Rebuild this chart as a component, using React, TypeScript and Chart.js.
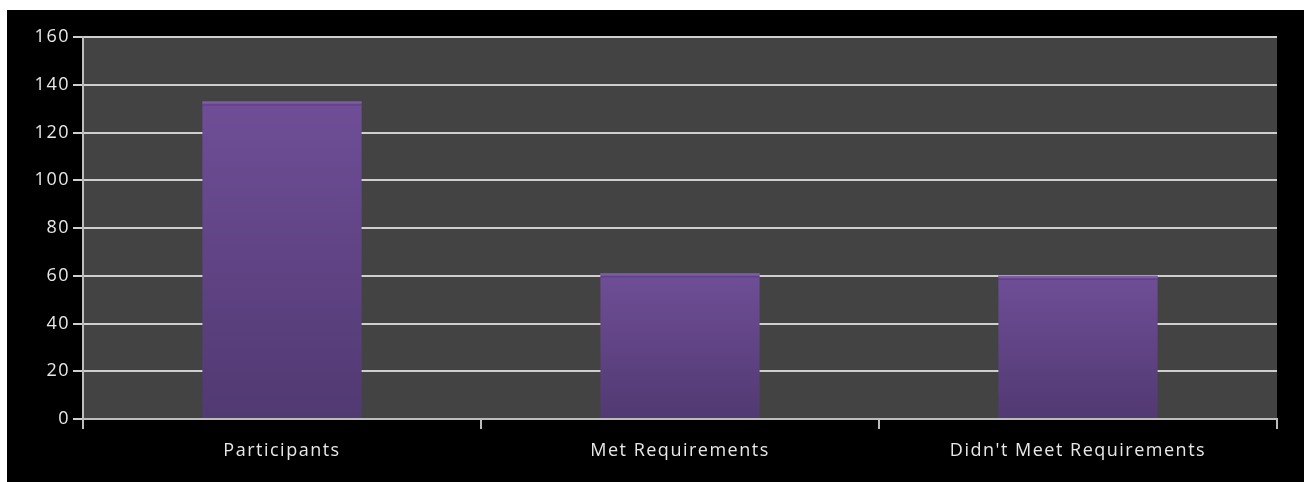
import React, { useEffect, useRef } from "react";
import { Chart, registerables } from "chart.js";

Chart.register(...registerables);

const categories = ["Participants", "Met Requirements", "Didn't Meet Requirements"];
const values = [133, 61, 60];
const yTicks = [0, 20, 40, 60, 80, 100, 120, 140, 160];

const FONT = "'Open Sans', 'DejaVu Sans', sans-serif";

const bgPlugin = {
  id: "plotBg",
  beforeDraw(chart: any) {
    const { ctx, chartArea } = chart;
    ctx.save();
    ctx.fillStyle = "#434343";
    ctx.fillRect(chartArea.left, chartArea.top, chartArea.right - chartArea.left, chartArea.bottom - chartArea.top);
    ctx.restore();
  },
};

const spacingPlugin = {
  id: "spacing",
  beforeInit(chart: any) {
    (chart.ctx as any).letterSpacing = "1.5px";
  },
  beforeDraw(chart: any) {
    (chart.ctx as any).letterSpacing = "1.5px";
  },
};

const topLinePlugin = {
  id: "topLine",
  afterDatasetsDraw(chart: any) {
    const { ctx } = chart;
    const meta = chart.getDatasetMeta(0);
    ctx.save();
    meta.data.forEach((bar: any) => {
      const w = bar.width;
      const x0 = bar.x - w / 2;
      ctx.fillStyle = "rgba(130, 95, 170, 0.9)";
      ctx.fillRect(x0, bar.y, w, 2);
      ctx.fillStyle = "rgba(80, 55, 115, 0.6)";
      ctx.fillRect(x0, bar.y + 3, w, 1);
    });
    ctx.restore();
  },
};

export default function App() {
  const ref = useRef<HTMLCanvasElement>(null);
  useEffect(() => {
    const canvas = ref.current!;
    const chart = new Chart(canvas, {
      type: "bar",
      data: {
        labels: categories,
        datasets: [
          {
            data: values,
            backgroundColor: (c: any) => {
              const ch = c.chart;
              const area = ch.chartArea;
              const ys = ch.scales?.y;
              if (!area || !ys || c.raw == null) return "#5f4484";
              const top = ys.getPixelForValue(c.raw);
              const g = ch.ctx.createLinearGradient(0, top, 0, area.bottom);
              g.addColorStop(0, "#6f4e97");
              g.addColorStop(1, "#513972");
              return g;
            },
            borderWidth: 0,
            categoryPercentage: 1,
            barPercentage: 0.4,
          },
        ],
      },
      options: {
        animation: false,
        responsive: false,
        maintainAspectRatio: false,
        layout: { padding: { top: 27, right: 27, left: 0, bottom: 0 } },
        plugins: { legend: { display: false }, tooltip: { enabled: false } },
        scales: {
          x: {
            grid: {
              offset: true,
              drawOnChartArea: false,
              drawTicks: true,
              tickLength: 10,
              color: "#bdbdbd",
              lineWidth: 2,
            },
            border: { display: true, color: "#bdbdbd", width: 2 },
            ticks: { color: "#e8e8e8", font: { family: FONT, size: 18 }, padding: 11 },
            afterFit: (s: any) => {
              s.height = 63;
            },
          },
          y: {
            min: 0,
            max: 160,
            afterBuildTicks: (s: any) => {
              s.ticks = yTicks.map((v) => ({ value: v }));
            },
            grid: { color: "#cfcfcf", lineWidth: 2, tickLength: 10 },
            border: { display: true, color: "#bdbdbd", width: 2 },
            ticks: { color: "#e8e8e8", font: { family: FONT, size: 18 }, padding: 3 },
            afterFit: (s: any) => {
              s.width = 76;
            },
          },
        },
      },
      plugins: [spacingPlugin, bgPlugin, topLinePlugin],
    });
    return () => chart.destroy();
  }, []);
  return (
    <div style={{ position: "absolute", left: 7, top: 10, width: 1297, height: 472, background: "#000" }}>
      <canvas ref={ref} width={1297} height={472} style={{ display: "block" }} />
    </div>
  );
}
